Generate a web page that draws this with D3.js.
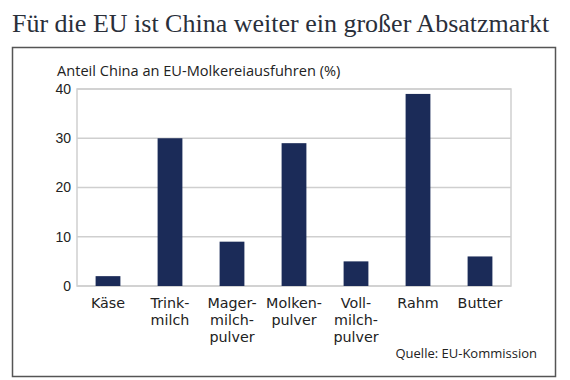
<!DOCTYPE html>
<html>
<head>
<meta charset="utf-8">
<script src="https://cdn.jsdelivr.net/npm/d3@7"></script>
<style>
  body { margin: 0; background: #fff; }
  svg { display: block; }
</style>
</head>
<body>
<svg width="570" height="380"></svg>
<script>
// Chart data
const categories = ["Käse", "Trinkmilch", "Magermilchpulver", "Molkenpulver", "Vollmilchpulver", "Rahm", "Butter"];
const labelLines = [["Käse"], ["Trink-", "milch"], ["Mager-", "milch-", "pulver"], ["Molken-", "pulver"], ["Voll-", "milch-", "pulver"], ["Rahm"], ["Butter"]];
const shares = [2, 30, 9, 29, 5, 39, 6];
const yTicks = [0, 10, 20, 30, 40];

const svg = d3.select("svg");
const sans = "'Open Sans', sans-serif";

// plot area
const plotLeft = 77, plotRight = 511, plotTop = 89, plotBottom = 286;

// title
svg.append("text")
  .attr("x", 12)
  .attr("y", 32)
  .attr("font-family", "'Liberation Serif', serif")
  .attr("font-size", 26)
  .attr("fill", "#2a2f3a")
  .text("Für die EU ist China weiter ein großer Absatzmarkt");

// frame
svg.append("rect")
  .attr("x", 12.5)
  .attr("y", 47.5)
  .attr("width", 543)
  .attr("height", 329)
  .attr("fill", "none")
  .attr("stroke", "#555")
  .attr("stroke-width", 1.5);

// subtitle
svg.append("text")
  .attr("x", 57)
  .attr("y", 76)
  .attr("font-family", sans)
  .attr("font-size", 14.6)
  .attr("fill", "#222")
  .text("Anteil China an EU-Molkereiausfuhren (%)");

const x = d3.scaleBand()
  .domain(categories)
  .range([plotLeft, plotRight])
  .paddingInner(0.6)
  .paddingOuter(0.3);

const y = d3.scaleLinear()
  .domain([0, 40])
  .range([plotBottom, plotTop]);

// gridlines
svg.append("g")
  .selectAll("line")
  .data(yTicks)
  .enter()
  .append("line")
  .attr("x1", plotLeft)
  .attr("x2", plotRight)
  .attr("y1", d => y(d))
  .attr("y2", d => y(d))
  .attr("stroke", "#cfcfcf")
  .attr("stroke-width", 1.5);

// plot border sides
svg.append("rect")
  .attr("x", plotLeft)
  .attr("y", plotTop)
  .attr("width", plotRight - plotLeft)
  .attr("height", plotBottom - plotTop)
  .attr("fill", "none")
  .attr("stroke", "#cfcfcf")
  .attr("stroke-width", 1.5);

// y axis
const yAxis = d3.axisLeft(y).tickValues(yTicks).tickSize(0).tickPadding(6);
const yg = svg.append("g")
  .attr("transform", `translate(${plotLeft}, 0)`)
  .call(yAxis);
yg.select(".domain").remove();
yg.selectAll("text")
  .attr("font-family", "'Liberation Sans', Arial, sans-serif")
  .attr("font-size", 14)
  .attr("fill", "#222");

// bars
svg.selectAll("rect.bar")
  .data(shares)
  .enter()
  .append("rect")
  .attr("class", "bar")
  .attr("x", (d, i) => x(categories[i]))
  .attr("y", d => y(d))
  .attr("width", x.bandwidth())
  .attr("height", d => plotBottom - y(d))
  .attr("fill", "#1b2b58");

// x labels, one text per line
const xLabelData = [];
categories.forEach((c, i) => {
  labelLines[i].forEach((l, j) => xLabelData.push({ cat: c, line: l, row: j }));
});
svg.append("g")
  .selectAll("text")
  .data(xLabelData)
  .enter()
  .append("text")
  .attr("x", d => x(d.cat) + x.bandwidth() / 2)
  .attr("y", d => 308 + d.row * 17)
  .attr("text-anchor", "middle")
  .attr("font-family", "'DejaVu Sans', sans-serif")
  .attr("font-size", 14.3)
  .attr("fill", "#222")
  .text(d => d.line);

// source
svg.append("text")
  .attr("x", 537)
  .attr("y", 358)
  .attr("text-anchor", "end")
  .attr("font-family", sans)
  .attr("font-size", 13)
  .attr("fill", "#222")
  .text("Quelle: EU-Kommission");
</script>
</body>
</html>
